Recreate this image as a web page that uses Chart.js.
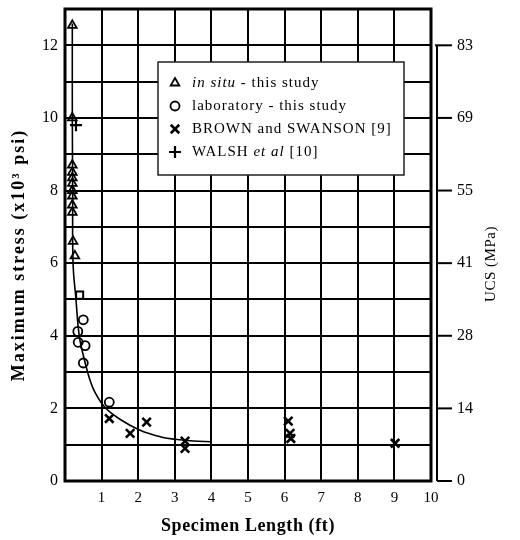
<!DOCTYPE html>
<html>
<head>
<meta charset="utf-8">
<script src="https://cdn.jsdelivr.net/npm/chart.js@4/dist/chart.umd.min.js"></script>
<style>
  html, body { margin: 0; padding: 0; background: #fff; }
  #wrap { width: 520px; height: 540px; }
</style>
</head>
<body>
<div id="wrap"><canvas id="c" width="520" height="540"></canvas></div>
<script>
// Specimen length (ft) and maximum stress (x10^3 psi)
const inSituLength = [0.2, 0.2, 0.2, 0.2, 0.2, 0.2, 0.2, 0.2, 0.2, 0.2, 0.22, 0.27];
const inSituStress = [12.55, 10.0, 8.7, 8.5, 8.35, 8.2, 8.0, 7.85, 7.6, 7.4, 6.6, 6.2];

const labLength = [0.35, 0.5, 0.36, 0.55, 0.5, 1.21];
const labStress = [4.12, 4.44, 3.82, 3.73, 3.25, 2.17];

const labSquareLength = [0.4];
const labSquareStress = [5.12];

const brownLength = [1.21, 1.78, 2.23, 3.28, 3.28, 6.1, 6.15, 6.17, 9.02];
const brownStress = [1.72, 1.31, 1.62, 1.10, 0.90, 1.65, 1.31, 1.17, 1.04];

const walshLength = [0.3];
const walshStress = [9.8];

// Fitted size-effect curve
const fitLength = [0.2, 0.2, 0.21, 0.22, 0.3, 0.39, 0.53, 0.68, 0.82, 1.09, 1.5, 2.05, 2.68, 3.0, 3.5, 4.0];
const fitStress = [12.6, 10.0, 8.0, 6.0, 5.0, 4.0, 3.34, 2.79, 2.44, 2.03, 1.7, 1.4, 1.2, 1.15, 1.1, 1.08];

// Axis ticks: stress (left) and the equivalent UCS in MPa (right)
const stressTicks = [0, 2, 4, 6, 8, 10, 12];
const ucsTicks = ['0', '14', '28', '41', '55', '69', '83'];
const lengthTicks = [1, 2, 3, 4, 5, 6, 7, 8, 9, 10];

const xTitle = 'Specimen Length (ft)';
const yTitle = 'Maximum stress (x10³ psi)';
const y2Title = 'UCS (MPa)';

const SERIF = '"Liberation Serif", "Times New Roman", serif';

function pts(xs, ys) { return xs.map((x, i) => ({ x, y: ys[i] })); }

// Legend entries: rich text runs [text, italic]
const legendItems = [
  { ds: 1, runs: [['in situ', true], [' - this study', false]] },
  { ds: 2, runs: [['laboratory - this study', false]] },
  { ds: 4, runs: [['BROWN and SWANSON [9]', false]] },
  { ds: 5, runs: [['WALSH ', false], ['et al', true], [' [10]', false]] }
];

const frame = {
  id: 'frame',
  beforeDatasetsDraw(chart) {
    const { ctx, chartArea: a } = chart;
    ctx.save();
    ctx.strokeStyle = '#000';
    ctx.lineWidth = 3;
    ctx.strokeRect(a.left, a.top, a.right - a.left, a.bottom - a.top);
    ctx.restore();
  }
};

// Axis titles (drawn with letter spacing)
const axisTitles = {
  id: 'axisTitles',
  afterDraw(chart) {
    const { ctx, chartArea: a } = chart;
    ctx.save();
    ctx.fillStyle = '#000';
    ctx.textAlign = 'center';
    ctx.font = 'bold 18px ' + SERIF;
    ctx.letterSpacing = '0.6px';
    ctx.textBaseline = 'alphabetic';
    ctx.fillText(xTitle, (a.left + a.right) / 2, 531);

    ctx.save();
    ctx.letterSpacing = '2px';
    ctx.textBaseline = 'middle';
    ctx.translate(19, 255);
    ctx.rotate(-Math.PI / 2);
    ctx.fillText(yTitle, 0, 0);
    ctx.restore();
    ctx.restore();
  }
};

const ucsAxis = {
  id: 'ucsAxis',
  afterDraw(chart) {
    const { ctx, chartArea: a } = chart;
    const s = chart.scales.y2;
    const x0 = a.right + 6;
    ctx.save();
    ctx.strokeStyle = '#000';
    ctx.lineWidth = 2;
    ctx.beginPath();
    ctx.moveTo(x0, s.getPixelForValue(stressTicks[stressTicks.length - 1]));
    ctx.lineTo(x0, s.getPixelForValue(0));
    ctx.stroke();
    stressTicks.forEach(v => {
      const y = s.getPixelForValue(v);
      ctx.beginPath();
      ctx.moveTo(v === 12 ? x0 - 2 : x0, y);
      ctx.lineTo(a.right + 21, y);
      ctx.stroke();
    });
    ctx.fillStyle = '#000';
    ctx.font = '15px ' + SERIF;
    ctx.letterSpacing = '0.5px';
    ctx.textAlign = 'center';
    ctx.textBaseline = 'middle';
    ctx.translate(491, 264);
    ctx.rotate(-Math.PI / 2);
    ctx.fillText(y2Title, 0, 0);
    ctx.restore();
  }
};

function drawMarker(ctx, ds, x, y) {
  const opts = {
    pointStyle: ds.pointStyle,
    radius: ds.pointRadius,
    rotation: 0,
    borderWidth: ds.pointBorderWidth
  };
  ctx.save();
  ctx.strokeStyle = '#000';
  ctx.fillStyle = 'rgba(0,0,0,0)';
  ctx.lineWidth = ds.pointBorderWidth;
  Chart.helpers.drawPoint(ctx, opts, x, y);
  ctx.restore();
}

const richLegend = {
  id: 'richLegend',
  afterDatasetsDraw(chart) {
    const { ctx, chartArea: a } = chart;
    const bx = a.left + 93, by = a.top + 53, bw = 246, bh = 113;
    ctx.save();
    ctx.fillStyle = '#fff';
    ctx.fillRect(bx, by, bw, bh);
    ctx.strokeStyle = '#222';
    ctx.lineWidth = 1.5;
    ctx.strokeRect(bx, by, bw, bh);
    ctx.textBaseline = 'middle';
    ctx.fillStyle = '#000';
    ctx.letterSpacing = '1px';
    legendItems.forEach((item, i) => {
      const y = by + 21 + i * 23;
      const ds = chart.data.datasets[item.ds];
      drawMarker(ctx, ds, bx + 17, y);
      let x = bx + 34;
      item.runs.forEach(([t, it]) => {
        ctx.font = (it ? 'italic ' : '') + '15px ' + SERIF;
        ctx.fillStyle = '#000';
        ctx.fillText(t, x, y);
        x += ctx.measureText(t).width;
      });
    });
    ctx.restore();
  }
};

function noVerticalPadding(s) {
  s.paddingTop = 0;
  s.paddingBottom = 0;
}

new Chart(document.getElementById('c'), {
  type: 'scatter',
  data: {
    datasets: [
      {
        label: 'fit',
        type: 'line',
        data: pts(fitLength, fitStress),
        borderColor: '#000',
        borderWidth: 1.6,
        pointRadius: 0,
        tension: 0.4,
        fill: false
      },
      {
        label: 'in situ - this study',
        data: pts(inSituLength, inSituStress),
        pointStyle: 'triangle',
        pointRadius: 5,
        pointBorderWidth: 1.8,
        borderColor: '#000',
        backgroundColor: 'rgba(0,0,0,0)'
      },
      {
        label: 'laboratory - this study',
        data: pts(labLength, labStress),
        pointStyle: 'circle',
        pointRadius: 4.5,
        pointBorderWidth: 1.8,
        borderColor: '#000',
        backgroundColor: 'rgba(0,0,0,0)'
      },
      {
        label: 'laboratory (square)',
        data: pts(labSquareLength, labSquareStress),
        pointStyle: 'rect',
        pointRadius: 5,
        pointBorderWidth: 2,
        borderColor: '#000',
        backgroundColor: 'rgba(0,0,0,0)'
      },
      {
        label: 'BROWN and SWANSON [9]',
        data: pts(brownLength, brownStress),
        pointStyle: 'crossRot',
        pointRadius: 6,
        pointBorderWidth: 2.6,
        borderColor: '#000',
        backgroundColor: 'rgba(0,0,0,0)'
      },
      {
        label: 'WALSH et al [10]',
        data: pts(walshLength, walshStress),
        pointStyle: 'cross',
        pointRadius: 6,
        pointBorderWidth: 2.2,
        borderColor: '#000',
        backgroundColor: 'rgba(0,0,0,0)'
      }
    ]
  },
  options: {
    responsive: false,
    animation: false,
    layout: { padding: { top: 9, left: 0, right: 0, bottom: 0 } },
    plugins: {
      legend: { display: false },
      tooltip: { enabled: false }
    },
    scales: {
      x: {
        type: 'linear',
        min: 0,
        max: 10,
        afterFit(s) { s.height = 59; s.paddingLeft = 0; s.paddingRight = 0; },
        afterBuildTicks(s) { s.ticks = [0].concat(lengthTicks).map(v => ({ value: v })); },
        grid: { color: '#000', lineWidth: 2, drawTicks: false },
        border: { display: false },
        ticks: {
          padding: 8,
          color: '#000',
          font: { family: SERIF, size: 15 },
          maxRotation: 0,
          callback: v => (lengthTicks.includes(v) ? String(v) : '')
        }
      },
      y: {
        type: 'linear',
        position: 'left',
        min: 0,
        max: 13,
        afterFit(s) { s.width = 65; noVerticalPadding(s); },
        afterBuildTicks(s) {
          const t = [];
          for (let v = 0; v <= 13; v++) t.push({ value: v });
          s.ticks = t;
        },
        grid: { color: '#000', lineWidth: 2, drawTicks: false },
        border: { display: false },
        ticks: {
          padding: 7,
          color: '#000',
          font: { family: SERIF, size: 16 },
          callback: v => (stressTicks.includes(v) ? String(v) : '')
        }
      },
      y2: {
        type: 'linear',
        position: 'right',
        min: 0,
        max: 13,
        afterFit(s) { s.width = 89; noVerticalPadding(s); },
        afterBuildTicks(s) { s.ticks = stressTicks.map(v => ({ value: v })); },
        grid: { display: true, drawOnChartArea: false, drawTicks: true, tickLength: 21, color: 'rgba(0,0,0,0)' },
        border: { display: false },
        ticks: {
          padding: 5,
          color: '#000',
          font: { family: SERIF, size: 16 },
          callback: v => ucsTicks[stressTicks.indexOf(v)] || ''
        }
      }
    }
  },
  plugins: [frame, richLegend, ucsAxis, axisTitles]
});
</script>
</body>
</html>
